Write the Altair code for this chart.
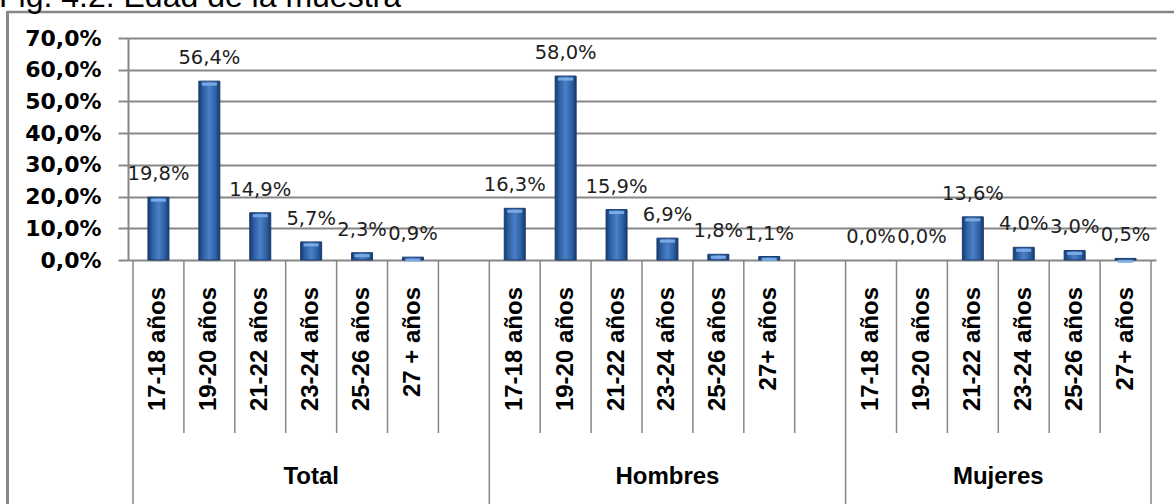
import altair as alt
import pandas as pd

# ---- data ----
groups = ["Total", "Hombres", "Mujeres"]
ages_total = ["17-18 años", "19-20 años", "21-22 años", "23-24 años", "25-26 años", "27 + años"]
ages_other = ["17-18 años", "19-20 años", "21-22 años", "23-24 años", "25-26 años", "27+ años"]
total_vals = [19.8, 56.4, 14.9, 5.7, 2.3, 0.9]
hombres_vals = [16.3, 58.0, 15.9, 6.9, 1.8, 1.1]
mujeres_vals = [0.0, 0.0, 13.6, 4.0, 3.0, 0.5]
group_slots = [7, 7, 6]          # slots per group (incl. empty spacer slot)
y_ticks = [0, 10, 20, 30, 40, 50, 60, 70]
title_text = "Fig. 4.2. Edad de la muestra"

ages_by_group = [ages_total, ages_other, ages_other]
vals_by_group = [total_vals, hombres_vals, mujeres_vals]

rows, inner, outer, glabels = [], [], [], []
start = 0
for g, ages, vals, n in zip(groups, ages_by_group, vals_by_group, group_slots):
    for i, (a, v) in enumerate(zip(ages, vals)):
        rows.append({"group": g, "age": a, "v": v, "c": start + i + 0.5})
    outer.append({"b": start})
    for k in range(1, n):
        if k <= len(ages):
            inner.append({"b": start + k})
    glabels.append({"g": g, "c": start + n / 2})
    start += n
outer.append({"b": start})
NSLOT = start

df = pd.DataFrame(rows)
inner_df = pd.DataFrame(inner)
outer_df = pd.DataFrame(outer)
glab_df = pd.DataFrame(glabels)

GRAY = "#878787"
W, H = 1028, 222
xs = alt.Scale(domain=[0, NSLOT], nice=False, zero=False)
ys = alt.Scale(domain=[0, 70], nice=False)

grad = alt.Gradient(
    gradient="linear", x1=0, x2=1, y1=0, y2=0,
    stops=[
        alt.GradientStop(color="#163a6b", offset=0),
        alt.GradientStop(color="#2d5fa3", offset=0.2),
        alt.GradientStop(color="#4a80c6", offset=0.5),
        alt.GradientStop(color="#2d5fa3", offset=0.8),
        alt.GradientStop(color="#163a6b", offset=1),
    ],
)

base = alt.Chart(df)
pos = base.transform_filter("datum.v > 0")

yaxis = alt.Axis(
    values=y_ticks,
    labelExpr="replace(format(datum.value, '.1f'), '.', ',') + '%'",
    labelFont="DejaVu Sans", labelFontWeight="bold", labelFontSize=22,
    labelColor="black", labelPadding=17, labelOverlap=False,
    tickSize=10, tickColor=GRAY, tickWidth=2,
    domainColor=GRAY, domainWidth=2,
    grid=True, gridColor=GRAY, gridWidth=2, title=None)
Y = alt.Y("v:Q", scale=ys, axis=yaxis)
X = alt.X("c:Q", scale=xs, axis=None)

bars = pos.mark_bar(size=21, color=grad, stroke="#1a3d70", strokeWidth=1).encode(x=X, y=Y)

bevel = pos.mark_tick(
    orient="horizontal", thickness=3, size=15, color="#7fb0ea", yOffset=3, opacity=0.9
).encode(x=X, y=Y)

labels = base.transform_calculate(
    lab="replace(format(datum.v, '.1f'), '.', ',') + '%'"
).mark_text(font="DejaVu Sans", fontSize=19.5, color="#1e1e1e", dy=-17,
            baseline="alphabetic", align="center").encode(x=X, y=Y, text="lab:N")

age_text = base.mark_text(angle=270, align="right", baseline="middle",
                          font="Liberation Sans", fontWeight="bold", fontSize=24,
                          color="black").encode(x=X, y=alt.value(249), text="age:N")

inner_rules = alt.Chart(inner_df).mark_rule(color=GRAY, strokeWidth=1.5).encode(
    x=alt.X("b:Q", scale=xs, axis=None), y=alt.value(H), y2=alt.value(H + 173))

outer_rules = alt.Chart(outer_df).mark_rule(color=GRAY, strokeWidth=1.5).encode(
    x=alt.X("b:Q", scale=xs, axis=None), y=alt.value(H), y2=alt.value(H + 250))

group_text = alt.Chart(glab_df).mark_text(
    font="Liberation Sans", fontWeight="bold", fontSize=24, color="black",
    baseline="middle", align="center").encode(x=X, y=alt.value(439), text="g:N")

frame_top = alt.Chart(pd.DataFrame({"k": [0]})).mark_rule(color=GRAY, strokeWidth=2.5).encode(
    x=alt.value(-121), x2=alt.value(1060), y=alt.value(-26))
frame_left = alt.Chart(pd.DataFrame({"k": [0]})).mark_rule(color=GRAY, strokeWidth=3).encode(
    x=alt.value(-120.5), y=alt.value(-27), y2=alt.value(480))

title = alt.Chart(pd.DataFrame({"t": [title_text]})).mark_text(
    font="Liberation Sans", fontSize=32, color="black", align="left",
    baseline="alphabetic").encode(x=alt.value(-129), y=alt.value(-31), text="t:N")

chart = alt.layer(
    bars, bevel, labels, age_text, inner_rules, outer_rules, group_text,
    frame_top, frame_left, title
).properties(
    width=W, height=H,
    autosize=alt.AutoSizeParams(type="none"),
    padding={"left": 128, "top": 38, "right": 18, "bottom": 244},
    background="white",
).configure_view(stroke=None)

chart.save("out.html", embed_options={"renderer": "svg", "actions": False})
